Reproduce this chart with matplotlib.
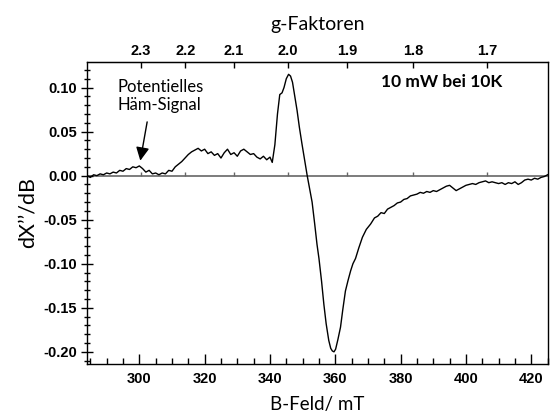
import matplotlib
matplotlib.use("Agg")
import matplotlib.pyplot as plt
from matplotlib.font_manager import FontProperties
from matplotlib.ticker import MultipleLocator, FormatStrFormatter

# EPR spectrum (B in mT, signal in dX''/dB)
field_mT = [
    284, 285, 286, 287, 288, 289, 290, 291, 292, 293, 294, 295, 296, 297, 298, 299,
    300, 301, 302, 303, 304, 305, 306, 307, 308, 309, 310, 311, 312, 313, 314, 315,
    316, 317, 318, 319, 320, 321, 322, 323, 324, 325, 326, 327, 328, 329, 330, 331,
    332, 333, 334, 335, 336, 337, 338, 339, 340, 340.7, 341.5, 342.3, 343.0, 343.7,
    344.3, 345.0, 345.7, 346.3, 346.9, 347.5, 348.3, 349.0, 349.8, 350.6, 351.4,
    352.2, 352.9, 353.7, 354.4, 355.0, 355.8, 356.5, 357.2, 358.0, 358.6, 359.1,
    359.6, 360.1, 360.8, 361.6, 362.3, 363.1, 363.9, 364.7, 365.4, 366.2, 367.2,
    368.3, 369.5, 370.8, 372, 373, 374, 375, 376, 377, 378, 379, 380, 381, 382, 383,
    384, 385, 386, 387, 388, 389, 390, 391, 392, 393, 394, 395, 396, 397, 398, 399,
    400, 401, 402, 403, 404, 405, 406, 407, 408, 409, 410, 411, 412, 413, 414, 415,
    416, 417, 418, 419, 420, 421, 422, 423, 424, 425,
]
signal = [
    0.000, -0.002, 0.001, 0.000, 0.002, 0.001, 0.003, 0.002, 0.004, 0.003, 0.006, 0.005,
    0.008, 0.007, 0.010, 0.009, 0.011, 0.008, 0.004, 0.006, 0.002, 0.003, 0.001, 0.003,
    0.002, 0.006, 0.005, 0.010, 0.013, 0.016, 0.020, 0.024, 0.027, 0.029, 0.031, 0.028,
    0.030, 0.025, 0.027, 0.023, 0.025, 0.020, 0.026, 0.030, 0.024, 0.026, 0.022, 0.028,
    0.030, 0.027, 0.024, 0.025, 0.021, 0.019, 0.022, 0.018, 0.021, 0.015, 0.035, 0.070,
    0.092, 0.094, 0.100, 0.110, 0.115, 0.113, 0.106, 0.092, 0.074, 0.055, 0.036, 0.018,
    0.000, -0.016, -0.030, -0.055, -0.078, -0.094, -0.120, -0.146, -0.168, -0.187,
    -0.196, -0.199, -0.200, -0.197, -0.186, -0.172, -0.152, -0.131, -0.119, -0.108,
    -0.100, -0.094, -0.082, -0.070, -0.061, -0.055, -0.048, -0.046, -0.042, -0.043,
    -0.038, -0.036, -0.034, -0.031, -0.030, -0.027, -0.026, -0.023, -0.022, -0.021,
    -0.019, -0.020, -0.018, -0.019, -0.017, -0.018, -0.016, -0.014, -0.012, -0.011,
    -0.014, -0.017, -0.015, -0.013, -0.011, -0.010, -0.009, -0.010, -0.008, -0.007,
    -0.006, -0.008, -0.007, -0.008, -0.009, -0.008, -0.010, -0.008, -0.009, -0.007,
    -0.010, -0.008, -0.005, -0.004, -0.005, -0.003, -0.004, -0.002, -0.001, 0.001,
]
g_ticks = [2.3, 2.2, 2.1, 2.0, 1.9, 1.8, 1.7]
HNU = 690.9  # h*nu/mu_B in mT (about 9.67 GHz)

TICKFONT = FontProperties(family="Liberation Sans", size=10.5, weight="bold")
LABELFONT = ["Lato", "DejaVu Sans"]

fig = plt.figure(figsize=(5.51, 4.16), dpi=100)
ax = fig.add_axes([0.158, 0.125, 0.837, 0.726])

# zero line carries the g-factor ticks as well
ax.axhline(0, color="#666666", lw=1.2, zorder=1)
ax.vlines([HNU / g for g in g_ticks], 0, 0.004, color="#666666", lw=1.0, zorder=1)

ax.plot(field_mT, signal, color="black", lw=1.0, zorder=2)

ax.set_xlim(284, 425.2)
ax.set_ylim(-0.2138, 0.129)

ax.xaxis.set_major_locator(MultipleLocator(20))
ax.xaxis.set_minor_locator(MultipleLocator(5))
ax.yaxis.set_major_locator(MultipleLocator(0.05))
ax.yaxis.set_minor_locator(MultipleLocator(0.01))
ax.yaxis.set_major_formatter(FormatStrFormatter("%.2f"))
ax.tick_params(axis="x", which="major", direction="in", length=7, width=1, pad=6)
ax.tick_params(axis="x", which="minor", direction="in", length=4, width=1)
ax.tick_params(axis="y", which="major", direction="inout", length=8, width=1, pad=3)
ax.tick_params(axis="y", which="minor", direction="inout", length=5, width=1)
for lab in ax.get_xticklabels() + ax.get_yticklabels():
    lab.set_fontproperties(TICKFONT)

sec = ax.secondary_xaxis("top", functions=(lambda b: HNU / b, lambda g: HNU / g))
sec.set_xticks(g_ticks)
sec.tick_params(direction="in", length=4, width=1, pad=3)
for lab in sec.get_xticklabels():
    lab.set_fontproperties(TICKFONT)
sec.set_xlabel("g-Faktoren", family=LABELFONT, fontsize=14, labelpad=10)

for s in ax.spines.values():
    s.set_linewidth(1.0)

ax.set_xlabel("B-Feld/ mT", family=LABELFONT, fontsize=13.5, labelpad=7)
ax.set_ylabel("dX\u2019\u2019/dB", family=LABELFONT, fontsize=15.5, labelpad=4)

ax.text(373.9, 0.1063, "10 mW bei 10K", family=LABELFONT, fontsize=12.5,
        weight="bold", va="center")
ax.text(293.2, 0.0905, "Potentielles\nH\u00e4m-Signal", family=LABELFONT, fontsize=12,
        va="center", linespacing=1.2)
ax.annotate("", xy=(300.3, 0.017), xytext=(302.4, 0.061),
            arrowprops=dict(arrowstyle="-|>", color="black", lw=1.0,
                            mutation_scale=20, shrinkA=0, shrinkB=0))

fig.savefig("out.png", dpi=100)
